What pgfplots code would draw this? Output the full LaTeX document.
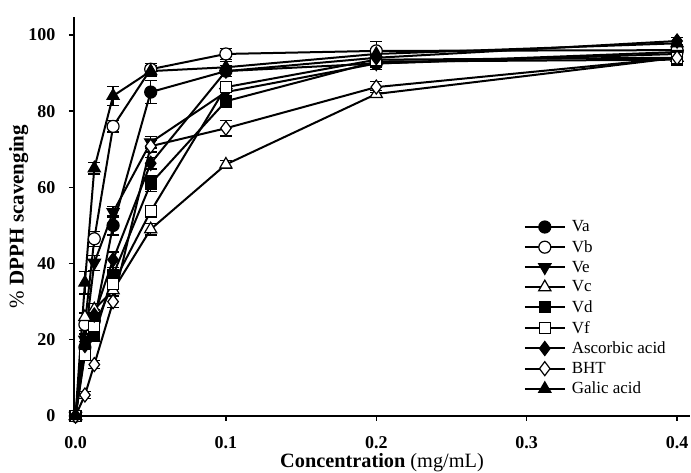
\documentclass[border=0pt]{standalone}
\usepackage{fontspec}
\setmainfont{Liberation Serif}
\usepackage{pgfplots}
\usepackage{pgfplotstable}
\pgfplotsset{compat=1.18}

% x = concentration (mg/mL), y = % DPPH scavenging, e = error
\pgfplotstableread{
x       y     e
0       0     0.5
0.00625 18    1.5
0.0125  25    1.5
0.025   50    2.5
0.05    85    3
0.1     90.5  1.5
0.2     92.5  1.5
0.4     95.5  1
}\va
\pgfplotstableread{
x       y     e
0       0     0.5
0.00625 24    1.5
0.0125  46.5  2
0.025   76    1.5
0.05    91    1.5
0.1     95    1.5
0.2     95.8  2.5
0.4     96    1
}\vb
\pgfplotstableread{
x       y     e
0       0     0.5
0.00625 20    1.5
0.0125  40.2  2
0.025   53.5  1.5
0.05    71.8  1.5
0.1     85    1.5
0.2     92.5  1
0.4     95    1
}\ve
\pgfplotstableread{
x       y     e
0       0     0.5
0.00625 26    1
0.0125  28    1.5
0.025   33    1.5
0.05    49    1.5
0.1     66    1
0.2     84.5  1
0.4     94    1
}\vc
\pgfplotstableread{
x       y     e
0       0     0.5
0.00625 17    1
0.0125  21    1.5
0.025   37    2
0.05    61    2
0.1     82.6  1.5
0.2     93    1
0.4     93.5  1
}\vd
\pgfplotstableread{
x       y     e
0       0     0.5
0.00625 16    1
0.0125  23.5  1.5
0.025   34.7  1.5
0.05    53.7  1.5
0.1     86.3  1.5
0.2     93.5  1
0.4     94    1
}\vf
\pgfplotstableread{
x       y     e
0       0     0.5
0.00625 18.5  1
0.0125  26.5  1.5
0.025   41    2
0.05    66.3  1.5
0.1     90.5  1.5
0.2     94    1
0.4     98.4  1
}\asc
\pgfplotstableread{
x       y     e
0       0     0.5
0.00625 5.5   1
0.0125  13.5  1
0.025   30    1.5
0.05    70.8  1.5
0.1     75.5  2
0.2     86.3  1.5
0.4     94    1
}\bht
\pgfplotstableread{
x       y     e
0       0     0.5
0.00625 35    3
0.0125  65    1.5
0.025   84    2.5
0.05    90.5  1.5
0.1     91.5  1.5
0.2     95    1.5
0.4     97.8  1.5
}\galic

\begin{document}
\begin{tikzpicture}
\useasboundingbox (-74pt,-57pt) rectangle (617pt,416pt);
\begin{axis}[
    scale only axis,
    width=616pt, height=399pt,
    xmin=-0.001, xmax=0.4086,
    ymin=0, ymax=104.7,
    axis lines=left,
    axis line style={-, line width=2pt},
    xtick={0,0.1,0.2,0.3,0.4},
    ytick={0,20,40,60,80,100},
    tick align=outside,
    major tick length=5pt,
    tick style={line width=1.3pt, black},
    /pgf/number format/assume math mode=true,
    xticklabel style={/pgf/number format/fixed, /pgf/number format/fixed zerofill,
        /pgf/number format/precision=1, yshift=-12pt},
    yticklabel style={xshift=-10pt},
    ticklabel style={font=\fontsize{18}{20}\selectfont\bfseries},
    every axis x label/.style={at={(axis description cs:0.5,-0.118)}, anchor=center,
        font=\fontsize{20.3}{22}\selectfont},
    every axis y label/.style={at={(axis description cs:-0.09,0.5)}, rotate=90, anchor=center,
        font=\fontsize{21}{23}\selectfont},
    xlabel={\textbf{Concentration} (mg/mL)},
    ylabel={\% \textbf{DPPH scavenging}},
    every axis plot/.append style={black, line width=2pt},
    error bars/error bar style={line width=1.3pt, solid},
    error bars/error mark options={rotate=90, mark size=6pt, line width=1.3pt},
    legend style={at={(0.725,0.5)}, anchor=north west, draw=none, fill=none,
        font=\fontsize{17}{19}\selectfont, row sep=3.2pt, column sep=4pt,
        nodes={inner sep=2pt}},
    legend cell align=left,
    legend image code/.code={\draw[mark repeat=2,mark phase=2,#1]
        plot coordinates {(0pt,0pt) (20pt,0pt) (40pt,0pt)};},
]
\addplot[mark=*, mark size=6pt, mark options={solid, fill=black, line width=1.2pt},
    error bars/.cd, y dir=both, y explicit] table[x=x, y=y, y error=e] {\va};
\addlegendentry{Va}
\addplot[mark=*, mark size=6pt, mark options={solid, fill=white, line width=1.2pt},
    error bars/.cd, y dir=both, y explicit] table[x=x, y=y, y error=e] {\vb};
\addlegendentry{Vb}
\addplot[mark=triangle*, mark size=7pt, mark options={solid, fill=black, rotate=180, line width=1.2pt},
    error bars/.cd, y dir=both, y explicit] table[x=x, y=y, y error=e] {\ve};
\addlegendentry{Ve}
\addplot[mark=triangle*, mark size=7pt, mark options={solid, fill=white, line width=1.2pt},
    error bars/.cd, y dir=both, y explicit] table[x=x, y=y, y error=e] {\vc};
\addlegendentry{Vc}
\addplot[mark=square*, mark size=5.5pt, mark options={solid, fill=black, line width=1.2pt},
    error bars/.cd, y dir=both, y explicit] table[x=x, y=y, y error=e] {\vd};
\addlegendentry{Vd}
\addplot[mark=square*, mark size=5.5pt, mark options={solid, fill=white, line width=1.2pt},
    error bars/.cd, y dir=both, y explicit] table[x=x, y=y, y error=e] {\vf};
\addlegendentry{Vf}
\addplot[mark=diamond*, mark size=7pt, mark options={solid, fill=black, line width=1.2pt},
    error bars/.cd, y dir=both, y explicit] table[x=x, y=y, y error=e] {\asc};
\addlegendentry{Ascorbic acid}
\addplot[mark=diamond*, mark size=7pt, mark options={solid, fill=white, line width=1.2pt},
    error bars/.cd, y dir=both, y explicit] table[x=x, y=y, y error=e] {\bht};
\addlegendentry{BHT}
\addplot[mark=triangle*, mark size=7pt, mark options={solid, fill=black, line width=1.2pt},
    error bars/.cd, y dir=both, y explicit] table[x=x, y=y, y error=e] {\galic};
\addlegendentry{Galic acid}
\end{axis}
\end{tikzpicture}
\end{document}
